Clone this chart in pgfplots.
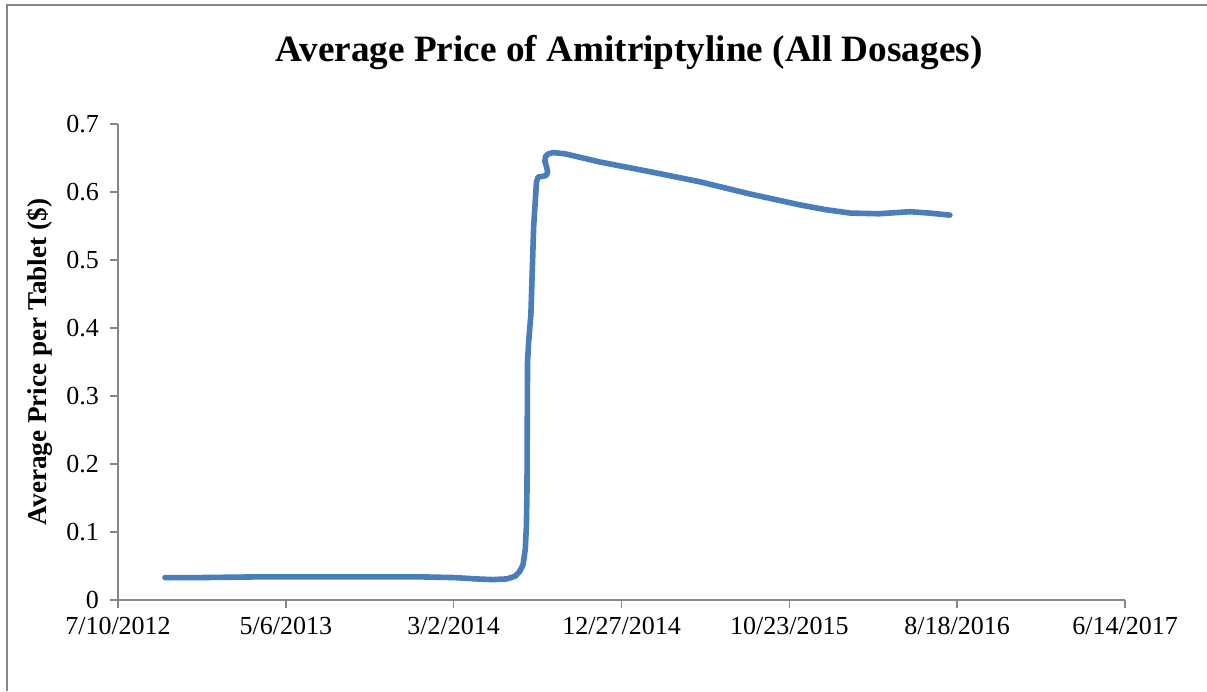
\documentclass[border=0pt]{standalone}
\usepackage{pgfplots}
\pgfplotsset{compat=1.18}
\usepackage{fontspec}
\setmainfont{Liberation Serif}
\definecolor{lineblue}{HTML}{4A7EBB}
\definecolor{axgray}{HTML}{868686}
\begin{document}
\begin{tikzpicture}[x=0.5bp,y=0.5bp]
\useasboundingbox (0,0) rectangle (1207,691);
\draw[axgray,line width=1bp] (7,0) -- (7,686) -- (1207,686);
\begin{axis}[
  at={(59bp,45.5bp)}, anchor=south west,
  scale only axis, width=503.5bp, height=238bp,
  xmin=0, xmax=1800, ymin=0, ymax=0.7,
  axis x line=bottom, axis y line=left,
  axis line style={axgray,line width=0.75bp,-},
  every tick/.style={axgray,line width=0.75bp},
  tick align=outside, major tick length=4bp,
  xtick={0,300,...,1800},
  xticklabels={7/10/2012,5/6/2013,3/2/2014,12/27/2014,10/23/2015,8/18/2016,6/14/2017},
  ytick={0,0.1,...,0.7},
  /pgf/number format/fixed,
  /pgf/number format/precision=1,
  /pgf/number format/assume math mode=true,
  xticklabel style={font=\fontsize{13bp}{15bp}\selectfont, yshift=-1bp},
  yticklabel style={font=\fontsize{13bp}{15bp}\selectfont, xshift=-2bp},
  ylabel={\textbf{Average Price per Tablet (\$)}},
  ylabel style={font=\fontsize{13.6bp}{16bp}\selectfont, at={(axis description cs:-0.0775,0.5)}, anchor=center, rotate=0},
  title={\textbf{Average Price of Amitriptyline (All Dosages)}},
  title style={font=\fontsize{18.6bp}{22bp}\selectfont, at={(axis description cs:0.5074,1.126)}, anchor=center},
  clip=false,
]
\addplot[lineblue, line width=2.8bp, line join=round, line cap=round] coordinates {
(84,0.033) (150,0.033) (250,0.034) (350,0.034) (450,0.034) (540,0.034)
(600,0.033) (640,0.031) (670,0.030) (695,0.031) (710,0.035) (718,0.042)
(724,0.052) (728,0.075) (730,0.11) (731,0.16) (732,0.35) (734,0.38)
(738,0.42) (743,0.55) (748,0.615) (751,0.622) (758,0.623) (765,0.624)
(768,0.629) (766,0.637) (763,0.645) (764,0.652) (769,0.656) (778,0.658)
(800,0.656) (862,0.644) (950,0.630) (1040,0.615) (1130,0.597) (1219,0.581)
(1265,0.574) (1309,0.569) (1360,0.568) (1416,0.571) (1450,0.569) (1487,0.566)
};
\end{axis}
\end{tikzpicture}
\end{document}
